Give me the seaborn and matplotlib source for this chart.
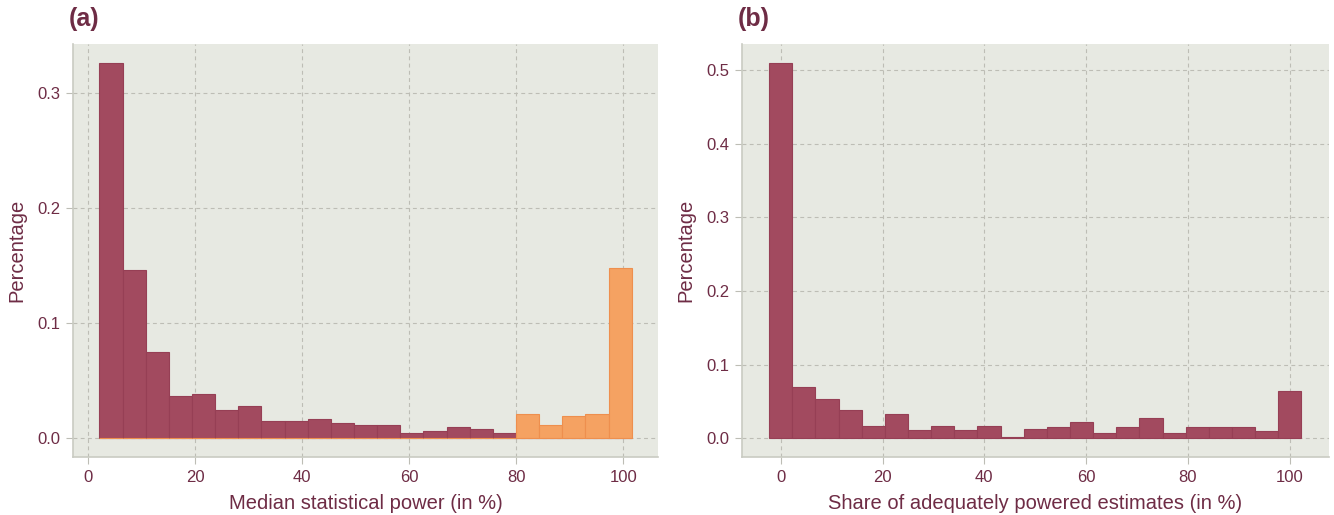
import numpy as np
import pandas as pd
import matplotlib
matplotlib.use("Agg")
import matplotlib.pyplot as plt
import seaborn as sns

# ---------------- data ----------------
# Panel (a): median statistical power, 23 bins
power_bin_first = 2.14
power_bin_last = 101.6
power_share = [0.326, 0.146, 0.0752, 0.0369, 0.0386, 0.0242, 0.028, 0.0147,
               0.0147, 0.0167, 0.013, 0.0115, 0.0115, 0.0043, 0.0058, 0.0095,
               0.0078, 0.0043, 0.0207, 0.0115, 0.019, 0.0207, 0.148]
power_group = ["under"] * 18 + ["adequate"] * 5

# Panel (b): share of adequately powered estimates, 23 bins
share_bin_first = -2.27
share_bin_last = 102.27
share_share = [0.51, 0.0694, 0.0532, 0.0383, 0.0167, 0.0329, 0.0113, 0.0167,
               0.0113, 0.0167, 0.0018, 0.0126, 0.0153, 0.0221, 0.0072, 0.0153,
               0.0275, 0.0072, 0.0153, 0.0153, 0.0153, 0.0099, 0.064]

x_ticks = [0, 20, 40, 60, 80, 100]
yticks_a = [0.0, 0.1, 0.2, 0.3]
yticks_b = [0.0, 0.1, 0.2, 0.3, 0.4, 0.5]

# ---------------- style ----------------
sns.set_theme(style="white")
plt.rcParams["font.family"] = ["Liberation Sans", "DejaVu Sans"]
TXT = "#6E2C45"
BG = "#E7E9E2"
GRID = "#BDBDB5"
MAROON = "#A24A5F"
MAROON_E = "#963F55"
ORANGE = "#F5A262"
ORANGE_E = "#EE8F4E"

fig = plt.figure(figsize=(13.34, 5.15), dpi=100)
ax_a = fig.add_axes([73 / 1334, 1 - 457 / 515, (658 - 73) / 1334, (457 - 44) / 515])
ax_b = fig.add_axes([742 / 1334, 1 - 457 / 515, (1329 - 742) / 1334, (457 - 44) / 515])


def centers(first, last, n):
    e = np.linspace(first, last, n + 1)
    return (e[:-1] + e[1:]) / 2


# Panel (a)
n_a = len(power_share)
df_a = pd.DataFrame({
    "center": centers(power_bin_first, power_bin_last, n_a),
    "share": power_share,
    "group": power_group,
})
for grp, col, ecol in [("under", MAROON, MAROON_E), ("adequate", ORANGE, ORANGE_E)]:
    w = np.where(df_a["group"] == grp, df_a["share"], 0.0)
    sns.histplot(x=df_a["center"].to_numpy(), weights=w, bins=n_a,
                 binrange=(power_bin_first, power_bin_last),
                 color=col, alpha=1.0, edgecolor=ecol, linewidth=0.8,
                 ax=ax_a, zorder=3)

# Panel (b)
n_b = len(share_share)
df_b = pd.DataFrame({
    "center": centers(share_bin_first, share_bin_last, n_b),
    "share": share_share,
})
sns.histplot(data=df_b, x="center", weights="share", bins=n_b,
             binrange=(share_bin_first, share_bin_last),
             color=MAROON, alpha=1.0, edgecolor=MAROON_E, linewidth=0.8,
             ax=ax_b, zorder=3)


def style(ax, xlim, ylim, yticks, xlabel, tag):
    ax.set_facecolor(BG)
    ax.set_xlim(*xlim)
    ax.set_ylim(*ylim)
    ax.set_xticks(x_ticks)
    ax.set_xticklabels([str(t) for t in x_ticks])
    ax.set_yticks(yticks)
    ax.set_yticklabels([f"{t:.1f}" for t in yticks])
    ax.grid(True, color=GRID, linestyle=(0, (3.5, 3)), linewidth=0.8, zorder=0)
    ax.set_axisbelow(True)
    for s in ["top", "right"]:
        ax.spines[s].set_visible(False)
    for s in ["left", "bottom"]:
        ax.spines[s].set_color("#C9CBC2")
        ax.spines[s].set_linewidth(1.2)
    ax.tick_params(axis="both", colors=GRID, labelcolor=TXT, labelsize=12,
                   length=5, width=0.8, direction="out", pad=4, bottom=True, left=True)
    ax.set_xlabel(xlabel, color=TXT, fontsize=14.5, labelpad=7)
    ax.set_ylabel("Percentage", color=TXT, fontsize=14.5, labelpad=8)
    ax.text(-0.008, 1.032, tag, transform=ax.transAxes, color=TXT, fontsize=18,
            fontweight="bold", ha="left", va="bottom")


style(ax_a, (-2.8, 106.5), (-0.0165, 0.3425), yticks_a,
      "Median statistical power (in %)", "(a)")
style(ax_b, (-7.6, 107.7), (-0.0255, 0.5355), yticks_b,
      "Share of adequately powered estimates (in %)", "(b)")

fig.savefig("out.png", dpi=100)
